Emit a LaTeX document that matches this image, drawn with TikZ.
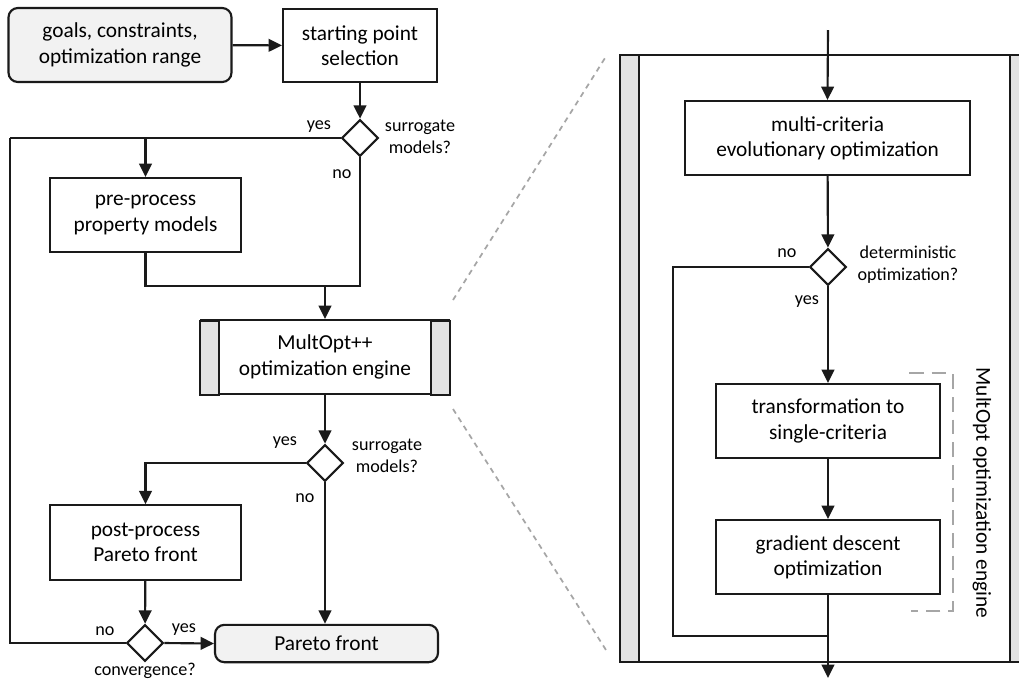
\documentclass[tikz,border=0pt]{standalone}
\usepackage{fontspec}
\setmainfont{Carlito}
\usetikzlibrary{shapes.geometric,arrows.meta,calc}
\definecolor{bargray}{HTML}{E3E3E3}
\definecolor{boxgray}{HTML}{F2F2F2}
\definecolor{dashgray}{HTML}{A6A6A6}
\definecolor{ink}{HTML}{1A1A1A}
\begin{document}
\begin{tikzpicture}[x=0.75pt,y=-0.75pt,
  line width=1.6pt, draw=ink,
  arr/.style={-{Triangle[length=10pt,width=9.5pt]}},
  mainfont/.style={font=\fontsize{16}{19}\selectfont},
  lbl/.style={font=\fontsize{13.6}{16.5}\selectfont, inner sep=0pt, align=center},
  stepbox/.style={draw, rectangle, align=center, inner sep=0pt, mainfont},
  termbox/.style={stepbox, rounded corners=7pt, fill=boxgray},
  decide/.style={draw, diamond, aspect=1, inner sep=0pt, minimum width=27.5pt, minimum height=27.5pt},
  zoomline/.style={dashgray, line width=1.3pt, dash pattern=on 4pt off 3.5pt},
  bracket/.style={dashgray, line width=1.3pt, dash pattern=on 11pt off 6pt}
]
\clip (0,0) rectangle (1019,687);
\fill[white] (0,0) rectangle (1019,687);

% left flow
\node[termbox, minimum width=167.25pt, minimum height=55.5pt] (goals) at (120,45) {goals, constraints,\\optimization range};
\node[stepbox, minimum width=115.5pt, minimum height=55pt] (start) at (360,45.5) {starting point\\selection};
\node[decide] (d1) at (360,138) {};
\node[stepbox, minimum width=143.25pt, minimum height=55.5pt] (pre) at (145.5,215) {pre-process\\property models};
\node[stepbox, minimum width=186pt, minimum height=55.5pt] (eng) at (325,357) {MultOpt++\\optimization engine};
\draw[fill=bargray] (eng.south west) rectangle ++(19,-74);
\draw[fill=bargray] (eng.south east) rectangle ++(-19,-74);
\node[decide] (d2) at (325,463) {};
\node[stepbox, minimum width=143.25pt, minimum height=56pt] (post) at (145.5,542.5) {post-process\\Pareto front};
\node[decide] (d3) at (145,643) {};
\node[termbox, minimum width=167.25pt, minimum height=28pt] (pf) at (326.5,643.5) {Pareto front};

\coordinate (lt) at (10,138);
\coordinate (j1) at (325,286);

\draw[arr] (goals) -- (start);
\draw[arr] (start) -- (d1);
\draw (d1.west) -- (lt);
\draw[arr] (d1.west) -| (pre.north);
\draw (d1.south) |- (j1);
\draw (pre.south) |- (j1);
\draw[arr] (j1) -- (eng.north);
\draw[arr] (eng) -- (d2);
\draw[arr] (d2.west) -| (post.north);
\draw[arr] (d2.south) -- (d2.south |- pf.north);
\draw[arr] (post) -- (d3);
\draw[arr] (d3.east) -- (pf.west);
\draw (d3.west) -| (lt);

\node[lbl] (l1y) at (319,127) {yes};
\node[lbl] (l1q) at (420,137) {surrogate\\models?};
\node[lbl] (l1n) at (342,174) {no};
\node[lbl] (l2y) at (285,443) {yes};
\node[lbl] (l2q) at (387,456) {surrogate\\models?};
\node[lbl] (l2n) at (305,498) {no};
\node[lbl] (l3n) at (105,631) {no};
\node[lbl] (l3y) at (184,630) {yes};
\node[lbl] (l3q) at (145,671) {convergence?};

% zoom lines
\draw[zoomline] (453,300) -- (605,58);
\draw[zoomline] (453,409) -- (606,650);

% right frame
\draw[fill=bargray] (620,55) rectangle (639,662);
\draw[fill=bargray] (1010,55) rectangle (1030,662);
\draw (620,55) -- (1030,55);
\draw (620,662) -- (1030,662);

\node[stepbox, minimum width=213.75pt, minimum height=55.5pt] (mc) at (827.5,138) {multi-criteria\\evolutionary optimization};
\node[decide] (d4) at (828,267) {};
\node[stepbox, minimum width=168pt, minimum height=55.5pt] (tr) at (828,421) {transformation to\\single-criteria};
\node[stepbox, minimum width=168pt, minimum height=55.5pt] (gd) at (828,557) {gradient descent\\optimization};

\coordinate (top) at (828,30);
\coordinate (nl) at (673,267);
\coordinate (j2) at (828,636);
\coordinate (bot) at (828,678);

\draw[arr] (top) -- (mc.north);
\draw[arr] (mc) -- (d4);
\draw[arr] (d4.south) -- (tr.north);
\draw[arr] (tr) -- (gd);
\draw (d4.west) -- (nl) |- (j2);
\draw (gd.south) -- (j2);
\draw[arr] (j2) -- (bot);

\node[lbl] (l4n) at (787,253) {no};
\node[lbl] (l4q) at (908,265) {deterministic\\optimization?};
\node[lbl] (l4y) at (807,302) {yes};

\draw[bracket] (909,373) -- (953,373) -- (953,611) -- (911,611);
\node[mainfont, rotate=-90, inner sep=0pt] (eng2) at (982,493) {MultOpt optimization engine};
\end{tikzpicture}
\end{document}
